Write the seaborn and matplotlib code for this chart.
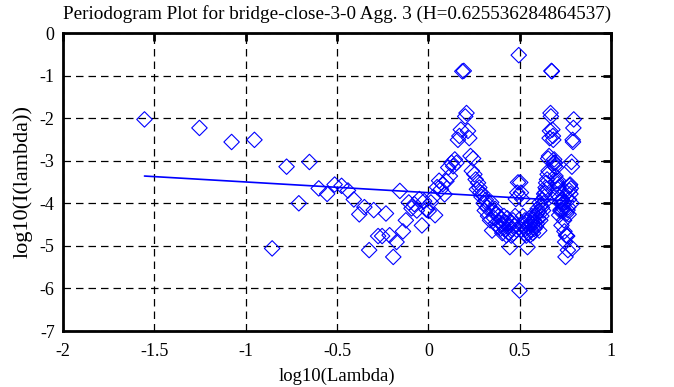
import matplotlib
matplotlib.use("Agg")
import matplotlib.pyplot as plt
import seaborn as sns
import pandas as pd

# log10(lambda) for each periodogram ordinate
log_lambda = [
    -1.554, -1.253, -1.077, -0.952, -0.855, -0.776, -0.709, -0.651, -0.600, -0.554,
    -0.513, -0.475, -0.440, -0.408, -0.378, -0.350, -0.324, -0.299, -0.275, -0.253,
    -0.232, -0.212, -0.192, -0.174, -0.156, -0.139, -0.123, -0.107, -0.092, -0.077,
    -0.063, -0.049, -0.035, -0.023, -0.010, 0.002, 0.014, 0.026, 0.037, 0.048,
    0.059, 0.069, 0.079, 0.089, 0.099, 0.109, 0.118, 0.127, 0.136, 0.145,
    0.154, 0.162, 0.170, 0.178, 0.186, 0.194, 0.202, 0.209, 0.217, 0.224,
    0.231, 0.238, 0.245, 0.252, 0.259, 0.266, 0.272, 0.279, 0.285, 0.291,
    0.297, 0.303, 0.309, 0.315, 0.321, 0.327, 0.332, 0.338, 0.344, 0.349,
    0.355, 0.360, 0.365, 0.370, 0.375, 0.380, 0.385, 0.390, 0.395, 0.400,
    0.405, 0.409, 0.414, 0.419, 0.423, 0.428, 0.432, 0.437, 0.441, 0.446,
    0.450, 0.454, 0.459, 0.463, 0.467, 0.471, 0.475, 0.479, 0.483, 0.487,
    0.491, 0.495, 0.499, 0.503, 0.507, 0.511, 0.514, 0.518, 0.522, 0.525,
    0.529, 0.532, 0.536, 0.539, 0.543, 0.546, 0.550, 0.553, 0.557, 0.560,
    0.563, 0.567, 0.570, 0.573, 0.576, 0.580, 0.583, 0.586, 0.589, 0.592,
    0.595, 0.598, 0.601, 0.604, 0.607, 0.610, 0.613, 0.616, 0.619, 0.622,
    0.625, 0.628, 0.631, 0.634, 0.636, 0.639, 0.642, 0.645, 0.647, 0.650,
    0.653, 0.656, 0.658, 0.661, 0.664, 0.666, 0.669, 0.671, 0.674, 0.676,
    0.679, 0.682, 0.684, 0.687, 0.689, 0.692, 0.694, 0.696, 0.699, 0.701,
    0.704, 0.706, 0.709, 0.711, 0.713, 0.716, 0.718, 0.720, 0.723, 0.725,
    0.727, 0.729, 0.732, 0.734, 0.736, 0.738, 0.741, 0.743, 0.745, 0.747,
    0.749, 0.751, 0.754, 0.756, 0.758, 0.760, 0.762, 0.764, 0.766, 0.768,
    0.770, 0.772, 0.774, 0.776, 0.778, 0.780, 0.783, 0.784, 0.786, 0.788,
    0.790, 0.792, 0.794, 0.796,
]

# log10(I(lambda)), same order
log_periodogram = [
    -2.03, -2.23, -2.56, -2.51, -5.06, -3.14, -4.00, -3.03, -3.65, -3.78,
    -3.56, -3.59, -3.70, -3.91, -4.26, -4.09, -5.10, -4.16, -4.77, -4.77,
    -4.24, -4.75, -5.26, -4.91, -3.71, -4.66, -4.40, -3.98, -4.12, -4.02,
    -4.17, -3.90, -4.52, -3.95, -4.15, -4.18, -3.98, -3.86, -4.28, -3.62,
    -3.47, -3.67, -3.55, -3.79, -3.48, -3.16, -3.36, -3.05, -3.13, -2.97,
    -3.05, -2.51, -2.42, -2.27, -0.90, -0.89, -1.96, -1.88, -2.30, -2.47,
    -2.89, -3.24, -2.95, -3.32, -3.44, -3.67, -3.52, -3.63, -3.75, -3.85,
    -3.78, -4.00, -4.17, -3.92, -4.10, -4.30, -4.05, -4.40, -3.98, -4.64,
    -4.20, -4.35, -4.13, -4.48, -4.25, -4.55, -4.30, -4.45, -4.60, -4.38,
    -4.70, -4.50, -4.30, -4.62, -4.45, -4.75, -4.35, -4.55, -4.68, -5.03,
    -4.45, -4.76, -4.60, -4.40, -4.70, -4.52, -4.30, -3.90, -4.62, -3.75,
    -3.51, -0.52, -6.05, -3.51, -3.75, -4.62, -3.90, -4.30, -4.52, -4.70,
    -4.40, -4.60, -4.76, -4.45, -5.03, -4.68, -4.55, -4.35, -4.75, -4.45,
    -4.62, -4.30, -4.50, -4.70, -4.38, -4.60, -4.45, -4.30, -4.55, -4.25,
    -4.48, -4.13, -4.35, -4.20, -4.64, -3.98, -4.40, -4.05, -4.30, -4.10,
    -3.92, -4.17, -4.00, -3.78, -3.85, -3.75, -3.63, -3.52, -3.67, -3.44,
    -3.32, -2.95, -3.24, -2.89, -2.47, -2.30, -1.88, -1.96, -0.89, -0.90,
    -2.27, -2.42, -2.51, -3.05, -2.97, -3.13, -3.05, -3.36, -3.16, -3.48,
    -3.79, -3.55, -3.67, -3.47, -3.62, -4.28, -3.86, -3.98, -4.18, -4.15,
    -3.95, -4.52, -3.90, -4.17, -4.02, -4.12, -3.98, -4.40, -4.66, -3.71,
    -4.91, -5.26, -4.75, -4.24, -4.77, -4.77, -4.16, -5.10, -4.09, -4.26,
    -3.91, -3.70, -3.59, -3.56, -3.78, -3.65, -3.03, -4.00, -3.14, -5.06,
    -2.51, -2.56, -2.23, -2.03,
]

# least-squares fit drawn across the data range
fit_x = [-1.554, 0.796]
fit_y = [-3.36, -3.95]

title = "Periodogram Plot for bridge-close-3-0 Agg. 3 (H=0.625536284864537)"
x_ticks = [-2, -1.5, -1, -0.5, 0, 0.5, 1]
y_ticks = [0, -1, -2, -3, -4, -5, -6, -7]

df = pd.DataFrame({"x": log_lambda, "y": log_periodogram})
fit = pd.DataFrame({"x": fit_x, "y": fit_y})

sns.set_theme(style="white")
plt.rcParams["font.family"] = ["Liberation Serif", "DejaVu Serif"]

fig = plt.figure(figsize=(6.74, 3.87), dpi=100)
ax = fig.add_axes([63 / 674, 1 - 331 / 387, 548 / 674, 298 / 387])

sns.scatterplot(data=df, x="x", y="y", ax=ax, marker="D", s=62,
                facecolor="none", edgecolor="#0000ff", linewidth=0.8, zorder=3)
sns.lineplot(data=fit, x="x", y="y", ax=ax, color="#0000ff", linewidth=1.2,
             zorder=4, estimator=None)

ax.set_xlim(-2, 1)
ax.set_ylim(-7, 0)
ax.set_xticks(x_ticks)
ax.set_xticklabels(["-2", "-1.5", "-1", "-0.5", "0", "0.5", "1"])
ax.set_yticks(y_ticks)
ax.set_yticklabels([str(t) for t in y_ticks])

ax.grid(True, color="black", linestyle=(0, (6, 4)), linewidth=0.9)
ax.set_axisbelow(True)
for sp in ax.spines.values():
    sp.set_color("black")
    sp.set_linewidth(2)
ax.tick_params(direction="in", length=6, width=2, top=True, right=True,
               labelsize=13, colors="black")
ax.tick_params(axis="x", pad=9)
ax.tick_params(axis="y", pad=6)
for lab in ax.get_xticklabels() + ax.get_yticklabels():
    lab.set_color("black")

ax.set_title(title, fontsize=13.8, color="black", pad=10)
ax.set_xlabel("log10(Lambda)", fontsize=13.5, color="black", labelpad=5)
ax.set_ylabel("log10(I(lambda))", fontsize=16, color="black", labelpad=5)

fig.savefig("out.png", dpi=100)
